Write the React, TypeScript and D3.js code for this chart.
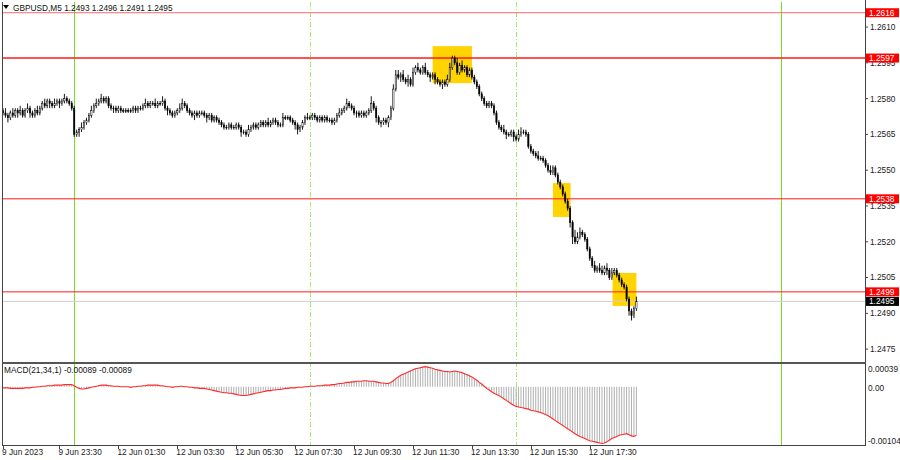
import React from "react";
import * as d3 from "d3";

// ---------- DATA ----------
const symbolTitle = "GBPUSD,M5";
const headerQuote = ["1.2493", "1.2496", "1.2491", "1.2495"];
const pipBase = 1.24; // closes below are pips above this base
const firstOpen = 175;
const closes = [
  174,173,172,174,173,175,174,175,173,175,176,174,173,175,174,176,
  178,177,179,178,177,178,179,178,179,180,179,178,
  176,165,
  166,167,168,170,171,173,175,177,178,
  179,180,179,180,
  177,176,176,175,176,
  175,175,175,175,175,176,175,176,176,
  177,178,177,178,178,177,178,178,179,
  176,175,174,173,174,175,
  176,178,177,
  175,174,173,174,173,174,174,173,172,173,171,
  172,171,170,169,
  168,168,169,168,168,169,168,
  166,166,165,167,
  168,169,168,169,170,169,170,169,170,171,170,169,169,
  172,172,172,171,
  170,169,167,168,170,
  172,172,172,173,172,171,172,171,172,
  171,171,170,171,
  173,174,175,176,178,177,176,174,
  174,173,174,173,174,175,
  178,176,
  172,170,170,171,170,172,
  176,184,190,
  189,190,188,187,188,186,
  191,193,192,191,193,191,
  190,189,190,188,
  187,186,187,186,188,
  193,197,195,
  191,194,192,193,190,192,189,
  187,185,182,
  180,178,177,178,177,
  174,170,168,
  167,166,165,165,166,164,163,
  165,166,166,165,
  160,158,157,
  156,155,155,154,
  152,150,149,151,
  148,145,143,140,137,134,
  128,122,120,
  122,124,123,121,
  117,113,110,
  108,109,108,107,109,108,105,107,108,
  106,104,102,101,
  96,91,89,
  92,95,
];
const upperWicks = [
  1,2,1,1,2,1,1,2,1,1, 2,1,1,1,2,1,1,2,1,1, 1,2,1,1,1,2,1,1,1,1,
  1,1,2,1,1,1,2,1,2,1, 2,1,1,1,1,1,1,1,1,1, 1,1,1,1,1,1,1,1,2,1,
  1,1,2,1,1,2,1,1,1,1, 1,1,2,2,1,1,1,1,1,1, 1,1,1,1,1,1,1,1,1,1,
  1,1,1,1,1,1,1,1,1,1, 2,1,1,1,1,1,1,1,2,1, 1,1,1,1,2,1,1,1,1,1,
  1,1,1,1,2,1,1,1,1,1, 1,1,1,1,1,1,1,2,1,1, 2,1,1,1,1,1,1,1,1,1,
  3,1,1,1,1,1,1,1,1,2, 2,2,1,2,1,2,1,2,1,2, 1,1,2,1,1,1,1,1,1,1,
  1,2,2,1,1,2,1,2,1,1, 1,1,1,1,1,1,1,1,1,1, 1,1,1,1,2,1,1,1,1,1,
  2,2,1,1,1,1,1,1,2,1, 1,1,1,2,1,1,1,1,1,1, 1,1,1,3,2,2,1,1,1,1,
  1,2,1,2,2,1,2,1,2,1, 1,1,1,1,1,1,1,1,2,
];
const lowerWicks = [
  1,1,2,1,1,1,2,1,1,1, 1,2,1,1,1,1,1,1,1,2, 1,1,1,2,1,1,1,1,1,1,
  1,2,1,1,1,1,1,1,1,1, 1,1,1,1,1,2,1,1,1,1, 1,1,1,1,1,1,1,1,1,1,
  1,1,1,1,1,1,1,2,1,1, 1,1,1,1,1,1,1,1,2,1, 1,1,1,2,1,1,1,1,1,1,
  1,1,1,1,1,1,1,2,1,1, 1,1,1,1,1,1,1,1,1,1, 1,1,1,1,1,1,1,1,1,2,
  2,1,1,1,1,1,1,1,1,1, 1,1,1,1,1,1,1,1,1,1, 1,1,1,1,2,1,1,1,1,1,
  1,1,2,1,2,1,1,2,1,1, 1,1,2,1,1,2,1,1,1,1, 1,1,1,1,2,1,2,1,1,2,
  1,1,1,1,1,1,1,1,1,1, 1,1,1,1,1,1,1,1,1,1, 1,1,1,1,1,2,1,1,2,1,
  1,1,1,1,1,1,1,1,1,1, 1,1,1,1,1,1,1,1,1,1, 1,2,3,1,1,1,1,1,1,1,
  1,1,1,1,1,1,2,1,1,1, 1,1,1,1,1,2,2,1,1,
];
// MACD(21,34,1) main value per bar, in units of 0.00001
const macdValues = [
  -2,-2,-2,-3,-3,
  -3,-3,-3,-3,-2,-2,-2,-1,-1,0,0,
  1,1,2,2,2,3,3,3,3,4,4,4,
  4,2,
  -1,-3,-4,-4,-3,
  -2,-1,0,1,2,
  3,3,3,2,2,1,1,
  1,0,0,0,0,-1,0,0,1,1,
  2,2,3,3,3,3,3,2,2,1,
  0,0,-1,0,0,1,1,0,0,
  -1,-1,-2,-2,-3,-3,-3,-4,
  -5,-6,-7,-8,-9,-10,-11,
  -11,-12,-12,-13,-14,-15,-16,
  -16,-16,-15,-14,-13,-12,
  -11,-10,-9,-8,-7,-7,-6,-6,-5,
  -5,-4,-3,-3,-2,-2,-2,-1,-1,
  -1,0,0,1,1,1,2,2,2,3,3,
  3,4,4,5,6,6,7,8,8,
  9,9,10,10,10,11,11,10,10,
  10,9,8,7,7,6,6,
  8,11,15,18,21,23,
  25,27,29,31,33,34,35,
  36,37,36,35,34,32,
  31,30,29,28,28,27,
  28,29,28,27,26,24,22,20,
  18,15,12,8,5,1,
  -3,-6,-9,-12,-14,-16,
  -19,-22,-25,-28,-31,-34,
  -36,-37,-38,-39,-40,-41,
  -43,-44,-45,-46,-47,-49,
  -51,-53,-56,-59,-62,-65,
  -68,-71,-74,-77,-80,-83,
  -86,-89,-91,-93,-95,-97,
  -99,-100,-101,-102,-103,-104,-103,
  -101,-98,-95,-93,-91,-89,-88,
  -87,-86,-88,-90,-91,-89,
];
const macdTitle = "MACD(21,34,1) -0.00089 -0.00089";
const macdAxisValues = [0.00039, 0.0, -0.00104];
const macdAxisLabels = ["0.00039", "0.00", "-0.00104"];

const priceTicks = [1.2610, 1.2595, 1.2580, 1.2565, 1.2550, 1.2535, 1.2520, 1.2505, 1.2490, 1.2475];
const levelPrices = [1.2616, 1.2597, 1.2538, 1.2499];
const levelLabels = ["1.2616", "1.2597", "1.2538", "1.2499"];
const bidPrice = 1.2495;
const bidLabel = "1.2495";

const timeLabels = ["9 Jun 2023", "9 Jun 23:30", "12 Jun 01:30", "12 Jun 03:30", "12 Jun 05:30", "12 Jun 07:30", "12 Jun 09:30", "12 Jun 11:30", "12 Jun 13:30", "12 Jun 15:30", "12 Jun 17:30"];
const timeLabelBars = [0, 23, 47, 71, 95, 119, 143, 167, 191, 215, 239];
const daySeparatorBars = [29, 317];
const sessionLineBars = [125, 209];

// highlight boxes: [startBar, endBar, topPrice, bottomPrice]
const boxStartBars = [175, 224, 248.3];
const boxEndBars = [191, 231.2, 258];
const boxTopPrices = [1.26020, 1.25446, 1.25069];
const boxBottomPrices = [1.25865, 1.25304, 1.24931];

// ---------- LAYOUT ----------
const W = 900, H = 460;
const plotL = 2, plotR = 865;
const mainT = 2, mainB = 362;
const macdT = 364, macdB = 445;
const FONT = "'Liberation Sans', Arial, sans-serif";

export default function App() {
  const n = Math.min(closes.length, upperWicks.length, lowerWicks.length);
  const x = d3.scaleLinear().domain([0, 258]).range([3, 636.4]);
  const y = d3.scaleLinear().domain([1.24696, 1.26205]).range([mainB, mainT]);
  const ym = d3.scaleLinear().domain([-0.00104, 0.00039]).range([443.5, 365.5]);

  const bars = d3.range(n).map((i) => {
    const o = i === 0 ? firstOpen : closes[i - 1];
    const c = closes[i];
    const h = Math.max(o, c) + upperWicks[i];
    const l = Math.min(o, c) - lowerWicks[i];
    return { i, o: pipBase + o / 10000, c: pipBase + c / 10000, h: pipBase + h / 10000, l: pipBase + l / 10000 };
  });

  const macdLine = d3
    .line<number>()
    .x((_, i) => x(i))
    .y((v) => ym(v * 1e-5));

  const bodyW = 1.3;

  return (
    <svg width={W} height={H} style={{ position: "absolute", left: 0, top: 0, background: "#fff" }} fontFamily={FONT}>
      <rect x={0} y={0} width={W} height={H} fill="#fff" />
      <defs>
        <clipPath id="mainClip">
          <rect x={plotL} y={mainT} width={plotR - plotL} height={mainB - mainT} />
        </clipPath>
        <clipPath id="macdClip">
          <rect x={plotL} y={macdT} width={plotR - plotL} height={macdB - macdT} />
        </clipPath>
      </defs>

      {/* highlight boxes */}
      <g clipPath="url(#mainClip)">
        {boxStartBars.map((b, k) => (
          <rect
            key={"box" + k}
            x={x(b)}
            y={y(boxTopPrices[k])}
            width={x(boxEndBars[k]) - x(b)}
            height={y(boxBottomPrices[k]) - y(boxTopPrices[k])}
            fill="#ffd400"
          />
        ))}
      </g>

      {/* vertical lines */}
      {daySeparatorBars.map((b, k) => (
        <line key={"ds" + k} x1={Math.round(x(b)) + 0.5} x2={Math.round(x(b)) + 0.5} y1={mainT} y2={macdB} stroke="#78e01a" strokeWidth={1} />
      ))}
      {sessionLineBars.map((b, k) => (
        <line key={"ss" + k} x1={Math.round(x(b)) + 0.5} x2={Math.round(x(b)) + 0.5} y1={mainT} y2={macdB} stroke="#a6e870" strokeWidth={1} strokeDasharray="5,2,1,2" />
      ))}

      {/* level lines */}
      {levelPrices.map((p, k) => (
        <line key={"lv" + k} x1={plotL} x2={plotR} y1={y(p)} y2={y(p)} stroke={k === 0 ? "#f06a6a" : "#ff1a1a"} strokeWidth={k === 1 ? 1.6 : 1} />
      ))}
      <line x1={plotL} x2={plotR} y1={y(bidPrice)} y2={y(bidPrice)} stroke="#cfcfcf" strokeWidth={1} />

      {/* candles */}
      <g clipPath="url(#mainClip)">
        {bars.map((b) => {
          const cx = x(b.i);
          const top = y(Math.max(b.o, b.c));
          const bot = y(Math.min(b.o, b.c));
          const bull = b.c > b.o;
          return (
            <g key={"c" + b.i}>
              <line x1={cx} x2={cx} y1={y(b.h)} y2={y(b.l)} stroke="#000" strokeWidth={0.9} />
              <rect
                x={cx - bodyW / 2}
                y={top}
                width={bodyW}
                height={Math.max(0.7, bot - top)}
                fill={bull ? "#fff" : "#000"}
                stroke="#000"
                strokeWidth={0.5}
              />
            </g>
          );
        })}
      </g>

      {/* MACD histogram + signal */}
      <g clipPath="url(#macdClip)">
        {macdValues.map((v, i) => (
          <line key={"h" + i} x1={x(i)} x2={x(i)} y1={ym(0)} y2={ym(v * 1e-5)} stroke="#b0b0b0" strokeWidth={1} />
        ))}
        <path d={macdLine(macdValues) || ""} fill="none" stroke="#ff2a2a" strokeWidth={1.1} />
      </g>

      {/* frames */}
      <line x1={plotL + 0.5} x2={plotL + 0.5} y1={mainT} y2={macdB} stroke="#444" strokeWidth={1} />
      <line x1={plotR + 0.5} x2={plotR + 0.5} y1={0} y2={macdB} stroke="#444" strokeWidth={1} />
      <rect x={plotL} y={mainB} width={plotR - plotL + 1} height={2} fill="#555" />
      <line x1={plotL} x2={plotR + 1} y1={macdB + 0.5} y2={macdB + 0.5} stroke="#444" strokeWidth={1} />

      {/* header */}
      <path d="M3,5 L9,5 L6,9 Z" fill="#000" />
      <text x={13} y={10.5} fontSize={8.3} fill="#111">
        {symbolTitle + "  " + headerQuote.join(" ")}
      </text>

      {/* price axis ticks */}
      {priceTicks.map((p, k) => (
        <g key={"pt" + k}>
          <line x1={plotR} x2={plotR + 3} y1={y(p)} y2={y(p)} stroke="#444" />
          <text x={870} y={y(p)} dy="0.35em" fontSize={8.3} fill="#222">
            {p.toFixed(4)}
          </text>
        </g>
      ))}

      {/* level labels */}
      {levelPrices.map((p, k) => (
        <g key={"ll" + k}>
          <rect x={866} y={y(p) - 4.5} width={33} height={9} fill="#ff0000" />
          <text x={869} y={y(p)} dy="0.35em" fontSize={8.3} fill="#fff">
            {levelLabels[k]}
          </text>
        </g>
      ))}
      <rect x={866} y={y(bidPrice) - 4.5} width={33} height={9} fill="#000" />
      <text x={869} y={y(bidPrice)} dy="0.35em" fontSize={8.3} fill="#fff">
        {bidLabel}
      </text>

      {/* MACD title & axis */}
      <text x={4} y={373} fontSize={8.3} fill="#111">
        {macdTitle}
      </text>
      {macdAxisValues.map((v, k) => {
        const yy = k === 0 ? ym(v) + 3.5 : k === 2 ? ym(v) - 2.5 : ym(v) + 1;
        return (
          <text key={"ma" + k} x={868} y={yy} dy="0.35em" fontSize={8.3} fill="#222">
            {macdAxisLabels[k]}
          </text>
        );
      })}

      {/* time axis */}
      {timeLabels.map((t, k) => {
        const tx = x(timeLabelBars[k]);
        return (
          <g key={"tl" + k}>
            <line x1={Math.round(tx) + 0.5} x2={Math.round(tx) + 0.5} y1={macdB} y2={macdB + 4} stroke="#444" />
            <text x={Math.max(2, tx - 1)} y={455} fontSize={8.3} fill="#222">
              {t}
            </text>
          </g>
        );
      })}
    </svg>
  );
}
